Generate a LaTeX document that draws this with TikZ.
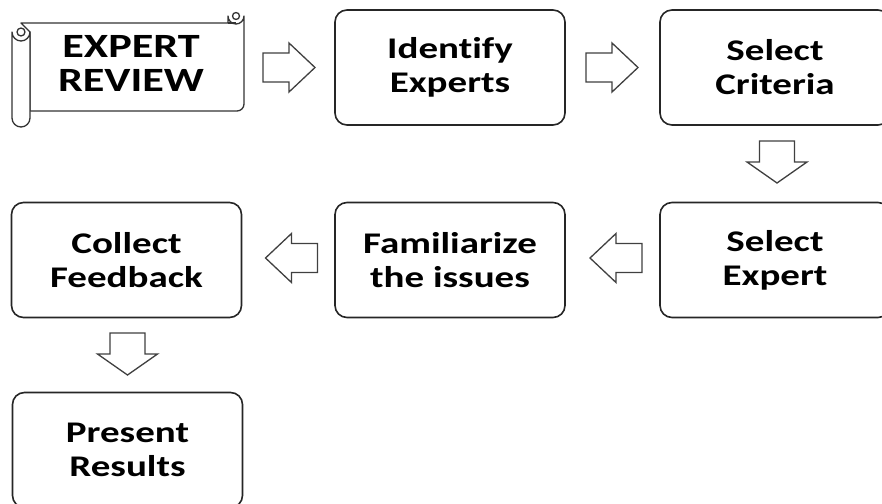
\documentclass[tikz,border=0pt]{standalone}
\usepackage{fontspec}
\newfontfamily\lbl{Carlito}[FakeStretch=1.3,Ligatures=NoCommon]
\begin{document}
\begin{tikzpicture}[x=1pt,y=-1pt,
  box/.style={draw=black!85, line width=1.6pt, rounded corners=12pt, fill=white,
    minimum width=230pt, minimum height=115pt, inner sep=0pt, align=center,
    font=\lbl\bfseries\fontsize{30}{34}\selectfont},
  scrolltext/.style={inner sep=0pt, align=center, font=\lbl\bfseries\fontsize{34}{34}\selectfont},
  scrollline/.style={draw=black!80, line width=1.3pt, fill=white, line join=round},
  arrowline/.style={draw=black!75, line width=1.3pt, fill=white, line join=miter},
  harrow/.pic={\path[arrowline] (-26,-14.5) -- (0,-14.5) -- (0,-24.5) -- (26,0) -- (0,24.5) -- (0,14.5) -- (-26,14.5) -- cycle;},
  varrow/.pic={\path[arrowline] (-17.5,-21) -- (17.5,-21) -- (17.5,0) -- (30,0) -- (0,21) -- (-30,0) -- (-17.5,0) -- cycle;}
]
\useasboundingbox (0,0) rectangle (882,503);
\clip (0,0) rectangle (882,503);
\fill[white] (0,0) rectangle (882,503);

% scroll (EXPERT REVIEW)
\path[scrollline] (21,23) -- (228,23) -- (228,16) arc[start angle=180,end angle=0,radius=8]
  -- (244,104) arc[start angle=0,end angle=90,radius=7] -- (30,111) -- (30,32) -- cycle;
\path[scrollline] (12,32) arc[start angle=180,end angle=0,radius=9] -- (30,118)
  arc[start angle=0,end angle=180,radius=9] -- cycle;
\path[scrollline] (21,32) circle[radius=4];
\path[scrollline] (236,16) circle[radius=3.5];
\draw[scrollline, fill=none] (228,23) -- (236,23);
\node[scrolltext] (scroll) at (131,63) {EXPERT\\REVIEW};

% boxes
\node[box] (idf) at (450,67.5) {Identify\\Experts};
\node[box] (crit) at (775,67.5) {Select\\Criteria};
\node[box] (sexp) at (775,260) {Select\\Expert};
\node[box] (fam) at (450,260) {Familiarize\\the issues};
\node[box] (coll) at (126.5,260) {Collect\\Feedback};
\node[box] (pres) at (127.5,450) {Present\\Results};

% block arrows
\pic at (289,67.5) {harrow};
\pic at (612,67.5) {harrow};
\pic at (777,162) {varrow};
\pic[rotate=180] at (616,258) {harrow};
\pic[rotate=180] at (291.5,258) {harrow};
\pic at (127.5,354) {varrow};
\end{tikzpicture}
\end{document}
